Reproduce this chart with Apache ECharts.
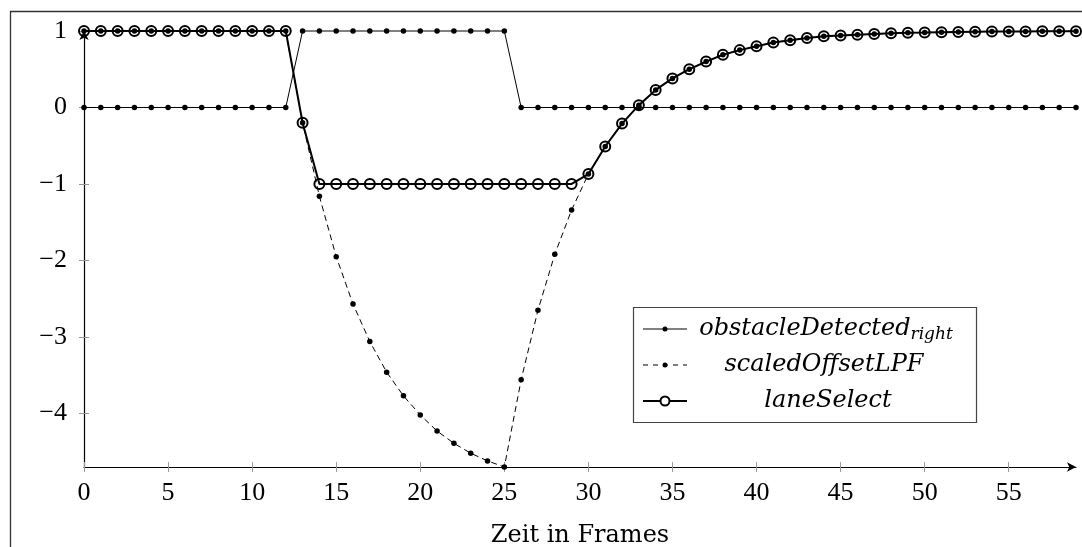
<!DOCTYPE html>
<html>
<head>
<meta charset="utf-8">
<script src="https://cdn.jsdelivr.net/npm/echarts@6/dist/echarts.min.js"></script>
<style>
html,body{margin:0;padding:0;background:#fff;}
#chart{width:1082px;height:547px;}
</style>
</head>
<body>
<div id="chart"></div>
<script>
// ---- data ----
const frames = Array.from({length: 60}, (_, i) => i);
const obstacleDetectedRight = [
  0,0,0,0,0,0,0,0,0,0,0,0,0,
  1,1,1,1,1,1,1,1,1,1,1,1,1,
  0,0,0,0,0,0,0,0,0,0,0,0,0,0,0,0,0,0,0,0,0,0,0,0,0,0,0,0,0,0,0,0,0,0
];
const scaledOffsetLPF = [
  1,1,1,1,1,1,1,1,1,1,1,1,1,
  -0.2,-1.16,-1.95,-2.57,-3.06,-3.46,-3.77,-4.02,-4.23,-4.39,-4.52,-4.62,-4.70,
  -3.56,-2.65,-1.92,-1.34,-0.87,-0.51,-0.21,0.03,0.23,0.38,0.50,0.60,0.69,0.75,
  0.80,0.85,0.88,0.91,0.93,0.94,0.95,0.96,0.97,0.976,0.98,0.985,0.988,0.99,0.992,
  0.994,0.995,0.996,0.997,0.998
];
const laneSelect = [
  1,1,1,1,1,1,1,1,1,1,1,1,1,
  -0.2,
  -1,-1,-1,-1,-1,-1,-1,-1,-1,-1,-1,-1,-1,-1,-1,-1,
  -0.87,-0.51,-0.21,0.03,0.23,0.38,0.50,0.60,0.69,0.75,
  0.80,0.85,0.88,0.91,0.93,0.94,0.95,0.96,0.97,0.976,0.98,0.985,0.988,0.99,0.992,
  0.994,0.995,0.996,0.997,0.998
];
const xTicks = [0,5,10,15,20,25,30,35,40,45,50,55];
const yTicks = [-4,-3,-2,-1,0,1];
const xName = 'Zeit in Frames';
const seriesNames = ['obstacleDetected', 'scaledOffsetLPF', 'laneSelect'];

const pairs = arr => arr.map((v, i) => [frames[i], v]);
const NUMFONT = '"Liberation Serif", serif';
const TXTFONT = '"DejaVu Serif", serif';
const fmt = v => String(v).replace('-', '\u2212');

const chart = echarts.init(document.getElementById('chart'), null, {renderer: 'canvas'});

const tickStyle = {color: '#9a9a9a', width: 1};
const baseX = {type: 'value', min: 0, max: 59, gridIndex: 0, position: 'bottom'};
const baseY = {type: 'value', min: -4.7, max: 1, gridIndex: 0, position: 'left'};

const option = {
  animation: false,
  backgroundColor: '#fff',
  grid: {left: 84, right: 6, top: 31, bottom: 80, containLabel: false, outerBoundsMode: 'none'},
  xAxis: [
    Object.assign({}, baseX, {
      name: xName, nameLocation: 'middle', nameGap: 57,
      nameTextStyle: {fontFamily: TXTFONT, fontSize: 24, color: '#000'},
      splitLine: {show: false},
      axisLine: {show: true, onZero: false, lineStyle: {color: '#000', width: 1.2}, symbol: ['none', 'arrow'], symbolSize: [7, 9]},
      axisTick: {show: true, inside: false, length: 5, lineStyle: tickStyle, customValues: xTicks},
      axisLabel: {show: true, margin: 13, fontFamily: NUMFONT, fontSize: 26, color: '#000', customValues: xTicks, formatter: fmt}
    }),
    Object.assign({}, baseX, {
      splitLine: {show: false},
      axisLine: {show: false, onZero: false},
      axisTick: {show: true, inside: true, length: 5, lineStyle: tickStyle, customValues: xTicks},
      axisLabel: {show: false}
    })
  ],
  yAxis: [
    Object.assign({}, baseY, {
      splitLine: {show: false},
      axisLine: {show: true, onZero: false, lineStyle: {color: '#000', width: 1.2}, symbol: ['none', 'arrow'], symbolSize: [7, 9]},
      axisTick: {show: true, inside: false, length: 5, lineStyle: tickStyle, customValues: yTicks},
      axisLabel: {show: true, margin: 17, fontFamily: NUMFONT, fontSize: 26, color: '#000', customValues: yTicks, formatter: fmt}
    }),
    Object.assign({}, baseY, {
      splitLine: {show: false},
      axisLine: {show: false, onZero: false},
      axisTick: {show: true, inside: true, length: 5, lineStyle: tickStyle, customValues: yTicks},
      axisLabel: {show: false}
    })
  ],
  series: [
    {
      name: seriesNames[0], type: 'line', data: pairs(obstacleDetectedRight),
      xAxisIndex: 0, yAxisIndex: 0, clip: false,
      symbol: 'circle', symbolSize: 5.5, showAllSymbol: true,
      lineStyle: {color: '#000', width: 1},
      itemStyle: {color: '#000'}, z: 2
    },
    {
      name: seriesNames[1], type: 'line', data: pairs(scaledOffsetLPF),
      xAxisIndex: 0, yAxisIndex: 0, clip: false,
      symbol: 'circle', symbolSize: 5.5, showAllSymbol: true,
      lineStyle: {color: '#000', width: 1, type: [6, 4]},
      itemStyle: {color: '#000'}, z: 3
    },
    {
      name: seriesNames[2], type: 'line', data: pairs(laneSelect),
      xAxisIndex: 0, yAxisIndex: 0, clip: false,
      symbol: 'circle', symbolSize: 10, showAllSymbol: true,
      lineStyle: {color: '#000', width: 2},
      itemStyle: {color: 'rgba(0,0,0,0)', borderColor: '#000', borderWidth: 2}, z: 4
    }
  ],
  graphic: [
    {type: 'rect', silent: true, z: 100,
     shape: {x: 10.5, y: 11.5, width: 1200, height: 700},
     style: {fill: 'none', stroke: '#333', lineWidth: 1.3}},
    {type: 'group', z: 100, silent: true, children: [
      {type: 'rect', shape: {x: 633.5, y: 307.5, width: 343, height: 115},
       style: {fill: '#fff', stroke: '#444', lineWidth: 1.2}},
      // row 1
      {type: 'line', shape: {x1: 643, y1: 329, x2: 687, y2: 329}, style: {stroke: '#000', lineWidth: 1}},
      {type: 'circle', shape: {cx: 665, cy: 329, r: 2.5}, style: {fill: '#000'}},
      {type: 'text', style: {x: 826, y: 329, text: '{m|' + seriesNames[0] + '}{s|right}', align: 'center', verticalAlign: 'middle',
        rich: {m: {fontFamily: TXTFONT, fontStyle: 'italic', fontSize: 24, fill: '#000', lineHeight: 30},
               s: {fontFamily: TXTFONT, fontStyle: 'italic', fontSize: 17, fill: '#000', padding: [12, 0, 0, 0], lineHeight: 30}}}},
      // row 2
      {type: 'line', shape: {x1: 643, y1: 365, x2: 687, y2: 365}, style: {stroke: '#000', lineWidth: 1, lineDash: [5, 5]}},
      {type: 'circle', shape: {cx: 665, cy: 365, r: 2.5}, style: {fill: '#000'}},
      {type: 'text', style: {x: 824, y: 365, text: seriesNames[1], align: 'center', verticalAlign: 'middle',
        font: 'italic 24px ' + TXTFONT, fill: '#000'}},
      // row 3
      {type: 'line', shape: {x1: 643, y1: 401, x2: 687, y2: 401}, style: {stroke: '#000', lineWidth: 2}},
      {type: 'circle', shape: {cx: 665, cy: 401, r: 4.5}, style: {fill: '#fff', stroke: '#000', lineWidth: 2}},
      {type: 'text', style: {x: 828, y: 401, text: seriesNames[2], align: 'center', verticalAlign: 'middle',
        font: 'italic 24px ' + TXTFONT, fill: '#000'}}
    ]}
  ]
};
chart.setOption(option);
</script>
</body>
</html>
